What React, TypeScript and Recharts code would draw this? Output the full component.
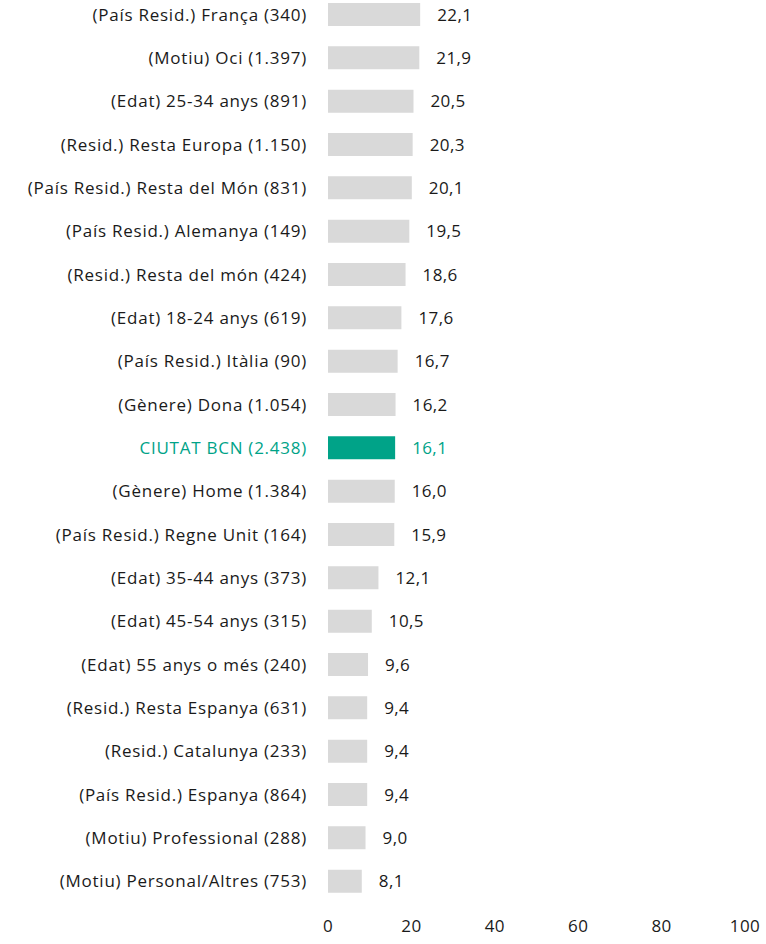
import { BarChart, Bar, XAxis, YAxis, Cell, LabelList } from 'recharts';

const categories = [
    '(País Resid.) França (340)',
    '(Motiu) Oci (1.397)',
    '(Edat) 25-34 anys (891)',
    '(Resid.) Resta Europa (1.150)',
    '(País Resid.) Resta del Món (831)',
    '(País Resid.) Alemanya (149)',
    '(Resid.) Resta del món (424)',
    '(Edat) 18-24 anys (619)',
    '(País Resid.) Itàlia (90)',
    '(Gènere) Dona (1.054)',
    'CIUTAT BCN (2.438)',
    '(Gènere) Home (1.384)',
    '(País Resid.) Regne Unit (164)',
    '(Edat) 35-44 anys (373)',
    '(Edat) 45-54 anys (315)',
    '(Edat) 55 anys o més (240)',
    '(Resid.) Resta Espanya (631)',
    '(Resid.) Catalunya (233)',
    '(País Resid.) Espanya (864)',
    '(Motiu) Professional (288)',
    '(Motiu) Personal/Altres (753)',
];

const values = [22.1, 21.9, 20.5, 20.3, 20.1, 19.5, 18.6, 17.6, 16.7, 16.2, 16.1, 16.0, 15.9, 12.1, 10.5, 9.6, 9.4, 9.4, 9.4, 9.0, 8.1];

const xTicks = [0, 20, 40, 60, 80, 100];

const highlight = 'CIUTAT BCN (2.438)';

const GREEN = '#00a388';
const GREY = '#d9d9d9';
const TEXT = '#1a1a1a';
const FONT = '"Open Sans", "Noto Sans", sans-serif';
const FS = 17;
const LS = 0.4;

const data = categories.map((name, i) => ({ name, value: values[i] }));

const YTick = (props: any) => {
    const { x, y, payload } = props;
    const isHl = payload.value === highlight;
    return (
        <text
            x={x}
            y={y}
            dy={6}
            textAnchor="end"
            fill={isHl ? GREEN : TEXT}
            fontSize={FS}
            fontFamily={FONT}
            letterSpacing={0.75}
        >
            {payload.value}
        </text>
    );
};

const ValueLabel = (props: any) => {
    const { x, y, width, height, index } = props;
    const isHl = categories[index] === highlight;
    return (
        <text
            x={x + width + 17}
            y={y + height / 2}
            dy={6}
            textAnchor="start"
            fill={isHl ? GREEN : TEXT}
            fontSize={FS}
            fontFamily={FONT}
            letterSpacing={LS}
        >
            {values[index].toFixed(1).replace('.', ',')}
        </text>
    );
};

export default function App() {
    return (
        <div style={{ position: 'absolute', left: 0, top: 0, width: 766, height: 944, background: '#fff' }}>
            <BarChart
                width={766}
                height={944}
                data={data}
                layout="vertical"
                margin={{ top: -7, right: 21, bottom: 0, left: 0 }}
                barSize={23}
            >
                <XAxis
                    type="number"
                    domain={[0, 100]}
                    ticks={xTicks}
                    axisLine={false}
                    tickLine={false}
                    tickSize={0}
                    tickMargin={17}
                    height={41}
                    tick={{ fill: TEXT, fontSize: FS, fontFamily: FONT, letterSpacing: LS }}
                    interval={0}
                />
                <YAxis
                    type="category"
                    dataKey="name"
                    width={328}
                    axisLine={false}
                    tickLine={false}
                    tickSize={0}
                    tickMargin={21}
                    interval={0}
                    tick={<YTick />}
                />
                <Bar dataKey="value" isAnimationActive={false}>
                    {data.map((d) => (
                        <Cell key={d.name} fill={d.name === highlight ? GREEN : GREY} />
                    ))}
                    <LabelList dataKey="value" content={<ValueLabel />} />
                </Bar>
            </BarChart>
        </div>
    );
}
